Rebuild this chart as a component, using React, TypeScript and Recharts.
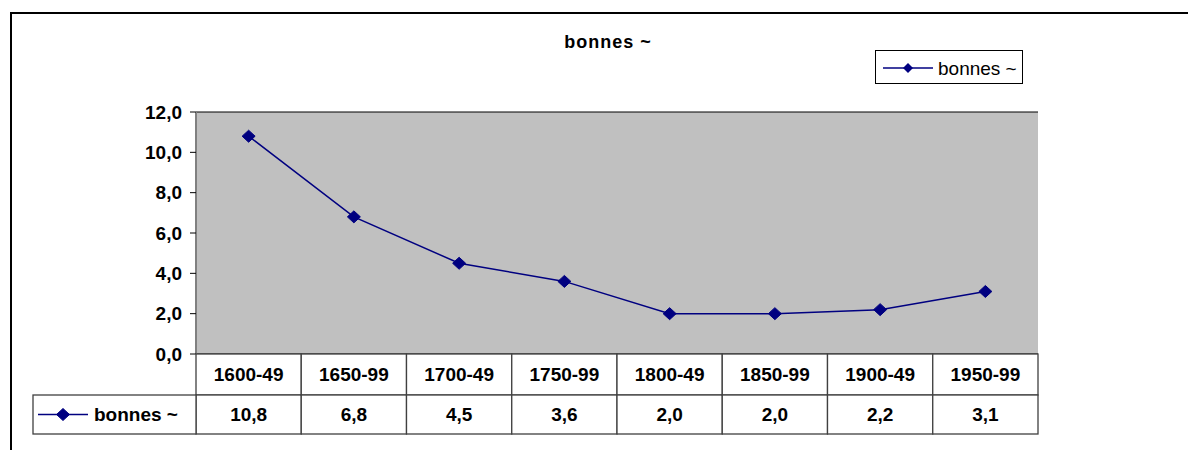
import React from 'react';
import {
  LineChart,
  Line,
  XAxis,
  YAxis,
  CartesianGrid,
  Legend,
  Customized,
} from 'recharts';

const categories = ['1600-49', '1650-99', '1700-49', '1750-99', '1800-49', '1850-99', '1900-49', '1950-99'];
const seriesValues = [10.8, 6.8, 4.5, 3.6, 2.0, 2.0, 2.2, 3.1];
const yTicks = [0, 2, 4, 6, 8, 10, 12];
const seriesName = 'bonnes ~';
const chartTitle = 'bonnes ~';

const data = categories.map((c, i) => ({ cat: c, value: seriesValues[i] }));

const FONT = 'Arial, "Liberation Sans", sans-serif';
const NAVY = '#000080';
const TABLE_STROKE = '#404040';
const ROW1_H = 41;
const ROW2_H = 39;
const LEGEND_CELL_LEFT = 33;

const fmt = (v: number) => v.toFixed(1).replace('.', ',');

const Diamond = (props: any) => {
  const { cx, cy } = props;
  if (cx == null || cy == null) return null;
  const w = 6.5;
  const h = 6;
  return (
    <polygon
      points={`${cx},${cy - h} ${cx + w},${cy} ${cx},${cy + h} ${cx - w},${cy}`}
      fill={NAVY}
      stroke={NAVY}
      strokeWidth={1}
    />
  );
};

const TableTick = (props: any) => {
  const { x, y, payload, index, width, visibleTicksCount } = props;
  const band = payload && payload.offset ? payload.offset * 2 : width / visibleTicksCount;
  const left = x - band / 2;
  const val = seriesValues[index];
  return (
    <g>
      <rect x={left} y={y} width={band} height={ROW1_H} fill="#fff" stroke={TABLE_STROKE} strokeWidth={1.3} />
      <rect x={left} y={y + ROW1_H} width={band} height={ROW2_H} fill="#fff" stroke={TABLE_STROKE} strokeWidth={1.3} />
      <text
        x={x}
        y={y + ROW1_H / 2}
        textAnchor="middle"
        dominantBaseline="central"
        fontFamily={FONT}
        fontWeight="bold"
        fontSize={19}
        fill="#000"
      >
        {payload.value}
      </text>
      <text
        x={x}
        y={y + ROW1_H + ROW2_H / 2}
        textAnchor="middle"
        dominantBaseline="central"
        fontFamily={FONT}
        fontWeight="bold"
        fontSize={19}
        fill="#000"
      >
        {val != null ? fmt(val) : ''}
      </text>
      {index === 0 && (
        <g>
          <rect
            x={LEGEND_CELL_LEFT}
            y={y + ROW1_H}
            width={left - LEGEND_CELL_LEFT}
            height={ROW2_H}
            fill="#fff"
            stroke={TABLE_STROKE}
            strokeWidth={1.3}
          />
          <line x1={LEGEND_CELL_LEFT + 5} x2={LEGEND_CELL_LEFT + 55} y1={y + ROW1_H + ROW2_H / 2} y2={y + ROW1_H + ROW2_H / 2} stroke={NAVY} strokeWidth={1.5} />
          <Diamond cx={LEGEND_CELL_LEFT + 30} cy={y + ROW1_H + ROW2_H / 2} />
          <text
            x={LEGEND_CELL_LEFT + 61}
            y={y + ROW1_H + ROW2_H / 2}
            dominantBaseline="central"
            fontFamily={FONT}
            fontWeight="bold"
            fontSize={19}
            fill="#000"
          >
            {seriesName}
          </text>
        </g>
      )}
    </g>
  );
};

const LegendBox = () => (
  <div
    style={{
      width: 148,
      height: 34,
      border: '1px solid #000',
      background: '#fff',
      boxSizing: 'border-box',
      position: 'relative',
    }}
  >
    <svg width={148} height={34} style={{ position: 'absolute', left: 0, top: 0 }}>
      <line x1={7} x2={57} y1={17} y2={17} stroke={NAVY} strokeWidth={1.5} />
      <polygon points="32,12 37,17 32,22 27,17" fill={NAVY} />
      <text x={62} y={17} dominantBaseline="central" fontFamily={FONT} fontSize={19} fill="#000">
        {seriesName}
      </text>
    </svg>
  </div>
);

const Decor = () => (
  <g>
    <rect x={11} y={13} width={1300} height={600} fill="none" stroke="#000" strokeWidth={2} />
    <text
      x={608}
      y={42}
      textAnchor="middle"
      dominantBaseline="central"
      fontFamily={FONT}
      fontWeight="bold"
      fontSize={18}
      letterSpacing={1}
      fill="#000"
    >
      {chartTitle}
    </text>
  </g>
);

export default function App() {
  return (
    <div style={{ position: 'absolute', left: 0, top: 0, width: 1188, height: 450, background: '#fff' }}>
      <LineChart
        width={1188}
        height={450}
        data={data}
        margin={{ top: 112, right: 150, bottom: 0, left: 0 }}
        style={{ background: '#fff' }}
      >
        <Customized component={Decor} />
        <CartesianGrid vertical={false} stroke="#000" strokeWidth={1} fill="#C0C0C0" fillOpacity={1} />
        <XAxis
          dataKey="cat"
          xAxisId="bottom"
          orientation="bottom"
          scale="band"
          height={96}
          tickSize={0}
          tickMargin={0}
          tickLine={false}
          axisLine={false}
          interval={0}
          tick={<TableTick />}
        />
        <XAxis
          dataKey="cat"
          xAxisId="top"
          orientation="top"
          scale="band"
          height={0}
          tick={false}
          tickLine={false}
          axisLine={{ stroke: '#808080', strokeWidth: 2 }}
        />
        <YAxis
          yAxisId="left"
          width={196}
          domain={[0, 12]}
          ticks={yTicks}
          interval={0}
          tickSize={6}
          tickMargin={8}
          tickFormatter={fmt}
          tickLine={{ stroke: '#000', strokeWidth: 1 }}
          axisLine={{ stroke: '#808080', strokeWidth: 2 }}
          tick={{ fontFamily: FONT, fontWeight: 'bold', fontSize: 19, fill: '#000' }}
        />
        <YAxis
          yAxisId="right"
          orientation="right"
          width={0}
          domain={[0, 12]}
          tick={false}
          tickLine={false}
          axisLine={{ stroke: '#808080', strokeWidth: 2 }}
        />
        <Line
          xAxisId="bottom"
          yAxisId="left"
          type="linear"
          dataKey="value"
          name={seriesName}
          stroke={NAVY}
          strokeWidth={1.5}
          dot={<Diamond />}
          activeDot={false}
          isAnimationActive={false}
        />
        <Legend
          layout="horizontal"
          verticalAlign="middle"
          align="center"
          content={<LegendBox />}
          wrapperStyle={{ position: 'absolute', left: 875, top: 50, width: 148, height: 34 }}
        />
      </LineChart>
    </div>
  );
}
